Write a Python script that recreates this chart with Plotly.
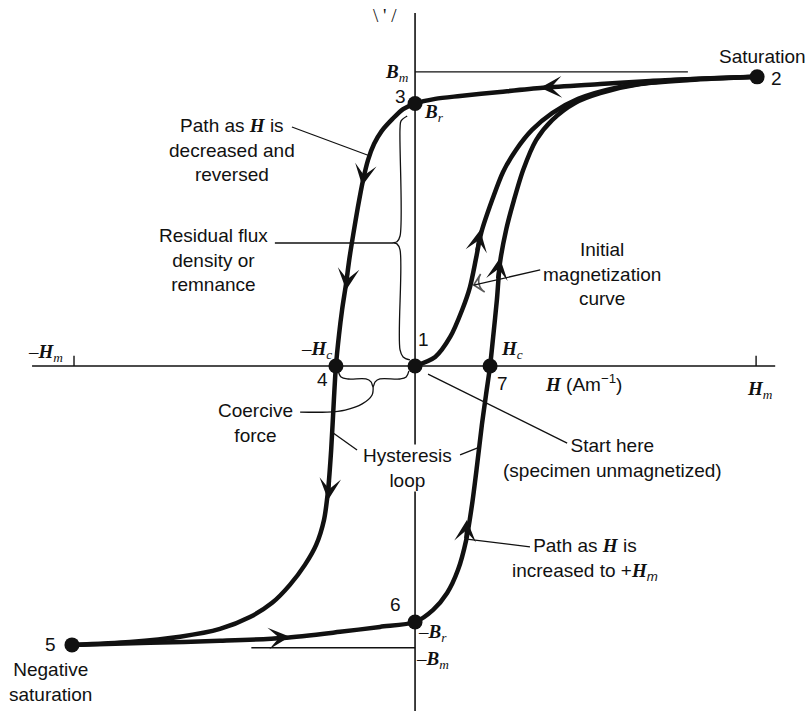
import plotly.graph_objects as go

# H in units of Hm, B in units of Bm, origin at point 1
desc_h = [1.003, 0.836, 0.689, 0.543, 0.375, 0.249, 0.132, 0.059, 0.0, -0.035, -0.066, -0.098,
          -0.120, -0.138, -0.153, -0.168, -0.181, -0.193, -0.202, -0.214, -0.223, -0.232, -0.238,
          -0.246, -0.255, -0.267, -0.290, -0.323, -0.367, -0.419, -0.484, -0.572, -0.689, -0.836, -1.006]
desc_b = [0.997, 0.990, 0.983, 0.972, 0.959, 0.945, 0.931, 0.921, 0.905, 0.886, 0.852, 0.810,
          0.766, 0.710, 0.638, 0.545, 0.455, 0.366, 0.286, 0.193, 0.107, 0.0, -0.117,
          -0.290, -0.428, -0.531, -0.617, -0.686, -0.755, -0.817, -0.866, -0.907, -0.934, -0.952, -0.962]

asc_h = [-1.006, -0.777, -0.572, -0.387, -0.220, -0.103, 0.0, 0.053, 0.094, 0.126, 0.150, 0.167,
         0.182, 0.196, 0.208, 0.220, 0.229, 0.240, 0.249, 0.267, 0.290, 0.317, 0.355, 0.402,
         0.469, 0.543, 0.660, 0.806, 1.003]
asc_b = [-0.962, -0.955, -0.948, -0.938, -0.917, -0.900, -0.883, -0.841, -0.783, -0.703, -0.600, -0.479,
         -0.341, -0.203, -0.100, 0.0, 0.100, 0.228, 0.355, 0.469, 0.572, 0.676, 0.779, 0.848,
         0.907, 0.941, 0.972, 0.986, 0.997]

init_h = [0.0, 0.059, 0.103, 0.138, 0.161, 0.179, 0.194, 0.226, 0.258, 0.296, 0.343, 0.402,
          0.478, 0.587, 0.733, 1.003]
init_b = [0.0, 0.031, 0.100, 0.193, 0.272, 0.372, 0.459, 0.572, 0.669, 0.745, 0.814, 0.872,
          0.921, 0.959, 0.983, 0.997]

pt_labels = ["1", "2", "3", "4", "5", "6", "7"]
pt_h = [0.0, 1.003, 0.0, -0.232, -1.006, 0.0, 0.220]
pt_b = [0.0, 0.997, 0.905, 0.0, -0.962, -0.883, 0.0]

b_max = 1.014      # Bm level line
b_min = -0.972     # -Bm level line
h_ticks = [-1.0, 1.0]

INK = "#111111"
SANS = "Liberation Sans, Arial, sans-serif"
SERIF = "Liberation Serif, Times New Roman, serif"

fig = go.Figure()

def thin(xs, ys, w=1.4, shape="linear"):
    fig.add_trace(go.Scatter(x=xs, y=ys, mode="lines", line=dict(color=INK, width=w, shape=shape),
                             hoverinfo="skip", showlegend=False))

# axes
thin([-1.123, 1.056], [0, 0], 1.6)
thin([0, 0], [1.217, -1.19], 1.6)
for t in h_ticks:
    thin([t, t], [0, 0.035], 1.4)
# Bm / -Bm levels
thin([0, 0.80], [b_max, b_max], 1.4)
thin([-0.48, 0], [b_min, b_min], 1.4)

# braces and leader lines
thin([-0.023, -0.041, -0.044, -0.044, -0.053, -0.065, -0.053, -0.044, -0.044, -0.035, -0.015],
     [0.862, 0.845, 0.821, 0.448, 0.428, 0.424, 0.421, 0.400, 0.055, 0.031, 0.021], 1.3, "spline")
thin([-0.411, -0.065], [0.424, 0.424], 1.3)
thin([-0.226, -0.217, -0.196, -0.144, -0.129, -0.123, -0.117, -0.103, -0.044, -0.026, -0.018],
     [-0.014, -0.038, -0.045, -0.045, -0.055, -0.072, -0.055, -0.045, -0.045, -0.038, -0.017], 1.3, "spline")
thin([-0.123, -0.126, -0.155, -0.205, -0.258, -0.337],
     [-0.072, -0.100, -0.131, -0.152, -0.159, -0.159], 1.3, "spline")
thin([-0.361, -0.132], [0.824, 0.724], 1.3)
thin([-0.170, -0.240], [-0.290, -0.231], 1.3)
thin([0.132, 0.191], [-0.307, -0.279], 1.3)
thin([0.038, 0.446], [-0.028, -0.266], 1.3)
thin([0.152, 0.337], [-0.597, -0.624], 1.3)

# leader arrow pointing at the initial curve (tail, tip)
fig.add_trace(go.Scatter(x=[0.367, 0.172], y=[0.331, 0.279], mode="lines+markers",
                         line=dict(color=INK, width=1.3),
                         marker=dict(symbol="arrow-wide-open", size=[0, 13], angleref="previous",
                                     color=INK, line=dict(color=INK, width=1.6)),
                         hoverinfo="skip", showlegend=False))

# magnetisation curves
for xs, ys in [(desc_h, desc_b), (asc_h, asc_b), (init_h, init_b)]:
    fig.add_trace(go.Scatter(x=xs, y=ys, mode="lines",
                             line=dict(color=INK, width=4.5, shape="spline", smoothing=0.8),
                             hoverinfo="skip", showlegend=False))

fig.add_trace(go.Scatter(x=pt_h, y=pt_b, mode="markers", text=pt_labels,
                         marker=dict(color=INK, size=15), hoverinfo="text", showlegend=False))

# direction arrowheads on the curves: (tail, tip)
arrows = [((0.425, 0.962), (0.367, 0.959)),
          ((-0.147, 0.676), (-0.155, 0.621)),
          ((-0.196, 0.324), (-0.202, 0.262)),
          ((-0.249, -0.393), (-0.255, -0.462)),
          ((-0.440, -0.941), (-0.367, -0.934)),
          ((0.147, -0.600), (0.152, -0.531)),
          ((0.240, 0.297), (0.249, 0.372)),
          ((0.179, 0.393), (0.191, 0.469))]
for (sx, sy), (tx, ty) in arrows:
    fig.add_annotation(x=tx, y=ty, ax=sx, ay=sy, xref="x", yref="y", axref="x", ayref="y",
                       text="", showarrow=True, arrowhead=3, arrowsize=1.5, arrowwidth=2.4,
                       arrowcolor=INK, standoff=0)

def label(txt, x, y, family=SANS, size=19, bg=None, align="center"):
    fig.add_annotation(x=x, y=y, xref="x", yref="y", text=txt, showarrow=False, align=align,
                       font=dict(family=family, size=size, color=INK),
                       bgcolor=bg if bg else "rgba(0,0,0,0)", borderpad=0)

HI = "<span style='font-family:Liberation Serif'><b><i>H</i></b></span>"

label("Path as " + HI + " is<br>decreased and<br>reversed", -0.537, 0.745)
label("Residual flux<br>density or<br>remnance", -0.592, 0.366)
label("Initial<br>magnetization<br>curve", 0.548, 0.317)
label("Coercive<br>force", -0.469, -0.197)
label("Hysteresis<br>loop", -0.021, -0.352, bg="white")
label("Start here<br>(specimen unmagnetized)", 0.578, -0.317)
label("Path as " + HI + " is<br>increased to +" + HI + "<sub><i>m</i></sub>", 0.499, -0.666)
label("Saturation", 1.018, 1.066)
label("Negative<br>saturation", -1.070, -1.090)
label(HI + " (Am<sup>−1</sup>)", 0.493, -0.059)

num_pos = {"1": (0.026, 0.090), "2": (1.059, 0.990), "3": (-0.044, 0.928), "4": (-0.270, -0.048),
           "5": (-1.070, -0.962), "6": (-0.056, -0.824), "7": (0.255, -0.059)}
for k in pt_labels:
    label(k, *num_pos[k])

sym = [("<b><i>B</i></b><sub><i>m</i></sub>", -0.053, 1.010),
       ("<b><i>B</i></b><sub><i>r</i></sub>", 0.055, 0.873),
       ("–<b><i>H</i></b><sub><i>c</i></sub>", -0.288, 0.055),
       ("<b><i>H</i></b><sub><i>c</i></sub>", 0.283, 0.055),
       ("<b><i>H</i></b><sub><i>m</i></sub>", 1.012, -0.083),
       ("–<b><i>H</i></b><sub><i>m</i></sub>", -1.085, 0.045),
       ("–<b><i>B</i></b><sub><i>r</i></sub>", 0.052, -0.921),
       ("–<b><i>B</i></b><sub><i>m</i></sub>", 0.052, -1.014),
       ("\\ ' /", -0.088, 1.210)]
for t, x, y in sym:
    label(t, x, y, family=SERIF, size=19)

fig.update_layout(
    width=811, height=711, autosize=False,
    margin=dict(l=0, r=0, t=0, b=0),
    paper_bgcolor="white", plot_bgcolor="white",
    xaxis=dict(range=[-1.217, 1.161], visible=False, fixedrange=True),
    yaxis=dict(range=[-1.190, 1.262], visible=False, fixedrange=True),
)

fig.write_html("out.html", config={"displayModeBar": False},
               post_script="document.body.style.margin='0';")
